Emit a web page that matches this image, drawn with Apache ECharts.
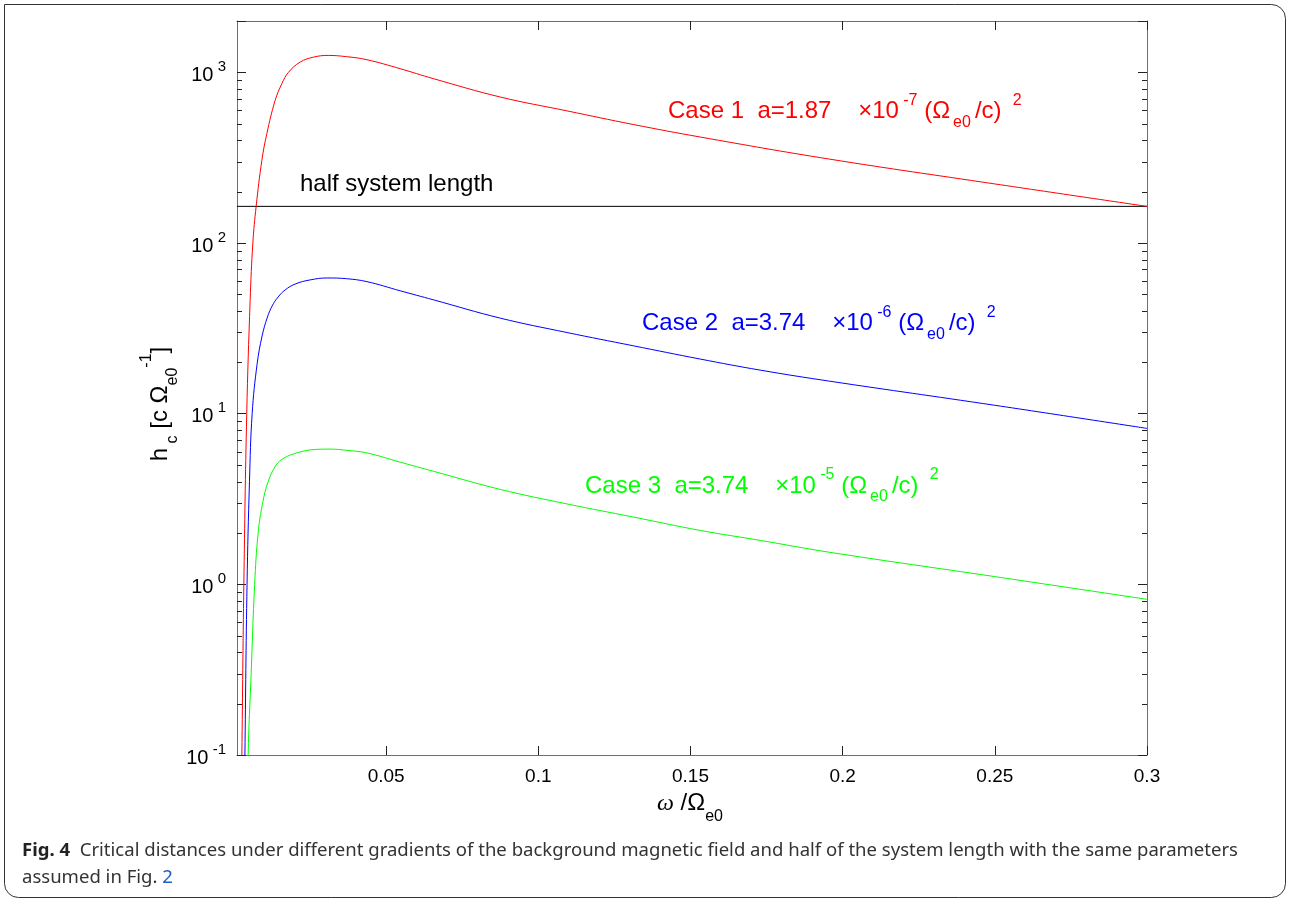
<!DOCTYPE html>
<html>
<head>
<meta charset="utf-8">
<script src="https://cdn.jsdelivr.net/npm/echarts@6/dist/echarts.min.js"></script>
<style>
html,body{margin:0;padding:0;background:#fff;}
#chart{width:1290px;height:901px;}
</style>
</head>
<body>
<div id="chart"></div>
<script>
// ---------------- data ----------------
const xRange = [0.001, 0.3];
const yRange = [0.1, 2000];
const xTicks = [0.05, 0.1, 0.15, 0.2, 0.25, 0.3];
const yMinorTicks = [0.2,0.3,0.4,0.5,0.6,0.7,0.8,0.9, 2,3,4,5,6,7,8,9, 20,30,40,50,60,70,80,90, 200,300,400,500,600,700,800,900];

const case1Omega = [0.0020,0.0026,0.00325,0.0042,0.00532,0.00621,0.00729,0.00917,0.01081,0.01353,0.01574,0.0179,0.02175,0.02612,0.03095,0.0370,0.0437,0.0546,0.0655,0.0875,0.1094,0.1312,0.1532,0.1958,0.2500,0.3000];
const case1H     = [0.01,  0.1,   1,      10,    46,     100,    164,    305,    438,    685,    859,    1000,  1149,   1228,   1257,   1236,  1186,  1051,  919,   717,   595,   495,   418,   310,   222,   164];

const case2Omega = [0.0030,0.0036,0.0043,0.0051,0.00598,0.00762,0.00926,0.01091,0.01255,0.01452,0.01682,0.02011,0.02503,0.03062,0.0370,0.0437,0.0546,0.0655,0.0875,0.1094,0.1312,0.1532,0.1729,0.1958,0.2500,0.3000];
const case2H     = [0.01,  0.1,   1,     4,     10,     19.6,   28.6,   36.4,   42.8,   48.3,   53.1,   57.5,   60.8,   62.4,   61.8,  59.4,  52.5,  46.5,  36.3,  29.9,  25.0,  20.9,  18.0,  15.5,  11.2,  8.2];

const case3Omega = [0.0040,0.00467,0.00565,0.0068,0.00795,0.00943,0.01124,0.01386,0.01649,0.02076,0.02569,0.0316,0.0370,0.0437,0.0546,0.0655,0.0875,0.1094,0.1312,0.1532,0.1729,0.1958,0.2500,0.3000];
const case3H     = [0.01,  0.1,    0.3,    1,     2,      3,      4,      5,      5.5,    5.9,    6.15,   6.2,   6.1,   5.89,  5.2,   4.6,   3.6,   2.96,  2.48,  2.07,  1.81,  1.54,  1.11,  0.817];

const halfSystemLength = 164;

const caseNumbers = ['1', '2', '3'];
const caseA = ['1.87', '3.74', '3.74'];
const caseExp = ['-7', '-6', '-5'];
const caseColors = ['#ff0000', '#0000ff', '#00ff00'];

const captionBold = 'Fig. 4';
const captionLine1 = '  Critical distances under different gradients of the background magnetic field and half of the system length with the same parameters';
const captionLine2a = 'assumed in Fig. ';
const captionLine2b = '2';

// ---------------- chart ----------------
const FONT = '"Liberation Sans", Arial, Helvetica, sans-serif';
const zip = (xs, ys) => xs.map((x, i) => [x, ys[i]]);

function powLabel(v) {
  const e = Math.log10(v);
  const r = Math.round(e);
  if (Math.abs(e - r) > 1e-6) return '';
  return '{m|10}{sup| ' + r + '}';
}

const axisLineStyle = { color: '#6e6e6e', width: 1 };
const tickStyle = { color: '#222', width: 1 };

function xAxisDef(pos) {
  return {
    type: 'value', position: pos, min: xRange[0], max: xRange[1],
    splitLine: { show: false },
    axisLine: { show: true, onZero: false, lineStyle: axisLineStyle },
    axisTick: { show: true, inside: true, length: 9, customValues: xTicks, lineStyle: tickStyle },
    axisLabel: pos === 'bottom'
      ? { show: true, customValues: xTicks, margin: 12, fontSize: 19, color: '#000', fontFamily: FONT }
      : { show: false }
  };
}
function yAxisDef(pos) {
  return {
    type: 'log', logBase: 10, position: pos, min: yRange[0], max: yRange[1],
    splitLine: { show: false },
    axisLine: { show: true, onZero: false, lineStyle: axisLineStyle },
    axisTick: { show: true, inside: true, length: 9, lineStyle: tickStyle },
    minorTick: { show: false },
    axisLabel: pos === 'left' ? {
      show: true, margin: 11, formatter: powLabel, padding: [6, 0, 0, 0],
      rich: {
        m: { fontSize: 20, lineHeight: 32, color: '#000', fontFamily: FONT },
        sup: { fontSize: 15, lineHeight: 15, verticalAlign: 'top', color: '#000', fontFamily: FONT }
      }
    } : { show: false }
  };
}

function lineSeries(name, xs, ys, color) {
  return {
    name, type: 'line', data: zip(xs, ys), xAxisIndex: 0, yAxisIndex: 0,
    symbol: 'none', showSymbol: false, smooth: 0.4, clip: true,
    lineStyle: { color, width: 1 }, itemStyle: { color }, z: 3, silent: true
  };
}

function caseRich(color) {
  return {
    m: { fontSize: 24, lineHeight: 38, fill: color, color, fontFamily: FONT },
    sup: { fontSize: 16, lineHeight: 16, verticalAlign: 'top', fill: color, color, fontFamily: FONT },
    sub: { fontSize: 16, lineHeight: 16, verticalAlign: 'bottom', padding: [4, 4, 0, 3], fill: color, color, fontFamily: FONT }
  };
}
function caseText(i) {
  return '{m|Case ' + caseNumbers[i] + '  a=' + caseA[i] + '    \u00d710}{sup| ' + caseExp[i] + '}{m| (\u03a9}{sub|e0}{m|/c) }{sup| 2}';
}
const casePos = [[668, 111.7], [642, 323.4], [585, 486]];

// caption width fitting (condensed look)
const measureCtx = document.createElement('canvas').getContext('2d');
const CAPFONT = '"Noto Sans", "Open Sans", sans-serif';
measureCtx.font = 'bold 18px ' + CAPFONT;
const wb = measureCtx.measureText(captionBold).width;
measureCtx.font = '18px ' + CAPFONT;
const wn = measureCtx.measureText(captionLine1).width;
const capScale = 1216 / (wb + wn);

const graphics = [
  { type: 'rect', shape: { x: 4.5, y: 4.5, width: 1281, height: 893, r: [0, 14, 14, 14] },
    style: { fill: null, stroke: '#333', lineWidth: 1 }, z: -10, silent: true },
  { type: 'text', x: 300, y: 184.5,
    style: { text: 'half system length', fontSize: 24, fontFamily: FONT, fill: '#000', align: 'left', verticalAlign: 'middle' } },
  { type: 'text', x: 690, y: 803.7,
    style: { text: '{w|\u03c9}{m| /\u03a9}{sub|e0}', align: 'center', verticalAlign: 'middle',
      rich: {
        w: { fontSize: 24, lineHeight: 42, fontStyle: 'italic', fontFamily: '"Liberation Serif", "Times New Roman", serif', fill: '#000' },
        m: { fontSize: 24, lineHeight: 42, fontFamily: FONT, fill: '#000' },
        sub: { fontSize: 16, lineHeight: 16, verticalAlign: 'bottom', fontFamily: FONT, fill: '#000' }
      } } },
  { type: 'text', x: 160, y: 404, rotation: Math.PI / 2,
    style: { text: '{m|h}{sub| c}{m| [c \u03a9}{sub|e0}{sup|-1}{m|]}', align: 'center', verticalAlign: 'middle',
      rich: {
        m: { fontSize: 24, lineHeight: 42, fontFamily: FONT, fill: '#000' },
        sub: { fontSize: 16, lineHeight: 16, verticalAlign: 'bottom', fontFamily: FONT, fill: '#000' },
        sup: { fontSize: 16, lineHeight: 16, verticalAlign: 'top', fontFamily: FONT, fill: '#000' }
      } } },
  { type: 'group', x: 22, y: 0, scaleX: capScale, children: [
    { type: 'text', x: 0, y: 851,
      style: { text: '{b|' + captionBold + '}{n|' + captionLine1 + '}', verticalAlign: 'middle', align: 'left',
        rich: {
          b: { fontSize: 18, fontWeight: 'bold', fontFamily: CAPFONT, fill: '#222' },
          n: { fontSize: 18, fontFamily: CAPFONT, fill: '#333' }
        } } },
    { type: 'text', x: 0, y: 878,
      style: { text: '{n|' + captionLine2a + '}{l|' + captionLine2b + '}', verticalAlign: 'middle', align: 'left',
        rich: {
          n: { fontSize: 18, fontFamily: CAPFONT, fill: '#333' },
          l: { fontSize: 18, fontFamily: CAPFONT, fill: '#1f5fc4' }
        } } }
  ] }
];
caseNumbers.forEach((n, i) => {
  graphics.push({ type: 'text', x: casePos[i][0], y: casePos[i][1],
    style: { text: caseText(i), align: 'left', verticalAlign: 'middle', rich: caseRich(caseColors[i]) } });
});

const chart = echarts.init(document.getElementById('chart'), null, { renderer: 'canvas' });
chart.setOption({
  animation: false,
  backgroundColor: '#fff',
  grid: { left: 237, right: 143, top: 21, bottom: 146, containLabel: false },
  xAxis: [xAxisDef('bottom'), xAxisDef('top')],
  yAxis: [yAxisDef('left'), yAxisDef('right')],
  series: [
    {
      type: 'line', name: 'half system length',
      data: [[xRange[0], halfSystemLength], [xRange[1], halfSystemLength]],
      symbol: 'none', lineStyle: { color: '#000', width: 1 }, z: 2, silent: true
    },
    lineSeries('Case 1', case1Omega, case1H, caseColors[0]),
    lineSeries('Case 2', case2Omega, case2H, caseColors[1]),
    lineSeries('Case 3', case3Omega, case3H, caseColors[2]),
    {
      type: 'custom', name: 'minor ticks', xAxisIndex: 0, yAxisIndex: 0, silent: true, z: 5,
      data: yMinorTicks.map(v => [xRange[0], v]),
      renderItem: function (params, api) {
        const v = api.value(1);
        const pl = api.coord([xRange[0], v]);
        const pr = api.coord([xRange[1], v]);
        const y = Math.round(pl[1]) + 0.5;
        return { type: 'group', children: [
          { type: 'line', shape: { x1: pl[0], y1: y, x2: pl[0] + 5, y2: y }, style: { stroke: '#222', lineWidth: 1 } },
          { type: 'line', shape: { x1: pr[0], y1: y, x2: pr[0] - 5, y2: y }, style: { stroke: '#222', lineWidth: 1 } }
        ] };
      }
    }
  ],
  graphic: graphics
});
</script>
</body>
</html>
